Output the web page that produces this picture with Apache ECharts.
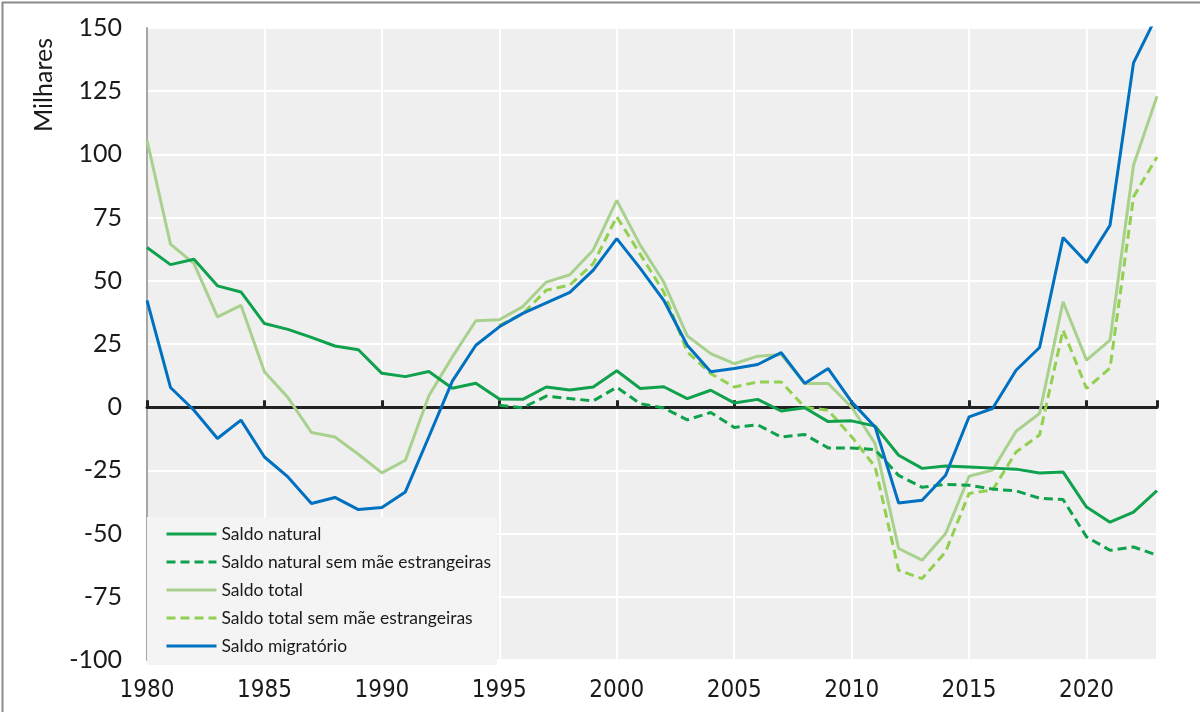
<!DOCTYPE html>
<html>
<head>
<meta charset="utf-8">
<script src="https://cdn.jsdelivr.net/npm/echarts@6/dist/echarts.min.js"></script>
<style>
html,body{margin:0;padding:0;background:#fff;}
#c{width:1200px;height:712px;}
</style>
</head>
<body>
<div id="c"></div>
<script>
// ---- Data ----
const years = [];
for (let y = 1980; y <= 2023; y++) years.push(y);
const yearsFrom1995 = years.filter(y => y >= 1995);

const saldoNatural = [63.2, 56.4, 58.5, 48, 45.6, 33.1, 30.8, 27.6, 24.2, 22.7,
  13.4, 12.1, 14.1, 7.5, 9.5, 3.2, 3.1, 8, 6.8, 8,
  14.4, 7.4, 8.1, 3.4, 6.7, 1.7, 3.1, -1.5, -0.2, -5.7,
  -5.4, -7.5, -19, -24.2, -23.3, -23.7, -24.1, -24.5, -26, -25.6,
  -39.5, -45.5, -41.5, -33];

const saldoNaturalSemMae = [0.8, -0.2, 4.4, 3.4, 2.5, 7.9, 1.4, -0.3, -5, -2.1,
  -8, -7, -11.8, -10.8, -16.1, -16.1, -16.8, -27, -31.7, -30.5,
  -30.9, -32.4, -33.1, -36, -36.5, -51.3, -56.6, -55.3, -58.5];

const saldoTotal = [105.6, 64.5, 56.8, 35.7, 40.3, 14, 3.8, -10, -11.8, -18.6,
  -26, -21, 4.5, 19.9, 34.2, 34.6, 39.8, 49.5, 52.4, 62.2,
  81.8, 64.1, 49.5, 28.2, 21.2, 17.2, 20.2, 20.8, 9.4, 9.4,
  0, -14.4, -55.9, -60.5, -50, -27.3, -24.9, -9.5, -2.5, 41.7,
  18.6, 26.5, 95.7, 123];

const saldoTotalSemMae = [32.4, 37, 46.3, 48.3, 56.8, 75.3, 60.5, 45.6, 21.9, 13.3,
  8, 10, 10, 0, -1.2, -11.7, -23.6, -64.5, -67.8, -57.2,
  -34.1, -32.8, -17.7, -11, 30.5, 7.4, 15.5, 83.2, 99];

const saldoMigratorio = [42.3, 7.8, -1.2, -12.4, -5.1, -19.7, -27.6, -38.1, -35.7, -40.5,
  -39.7, -33.5, -11.7, 10.3, 24.5, 31.8, 37.1, 41.3, 45.4, 54.2,
  66.7, 54.9, 42.3, 24.5, 14, 15.3, 16.9, 21.6, 9.4, 15.3,
  2.1, -7.8, -37.9, -36.8, -26.9, -3.8, -0.5, 14.6, 23.6, 67.1,
  57.2, 72, 136.2, 155];

const seriesNames = ['Saldo natural', 'Saldo natural sem mãe estrangeiras', 'Saldo total',
  'Saldo total sem mãe estrangeiras', 'Saldo migratório'];

const pairs = (xs, vs) => xs.map((x, i) => [x, vs[i]]);

// ---- Chart ----
const chart = echarts.init(document.getElementById('c'), null, {renderer: 'canvas'});

const lineSeries = (name, data, color, dashed, z) => ({
  name, type: 'line', data, symbol: 'none', showSymbol: false, clip: true, z,
  lineStyle: {color, width: 3, type: dashed ? [9, 5] : 'solid'},
  itemStyle: {color},
  emphasis: {disabled: true}
});

const narrowFont = "'Liberation Sans Narrow', 'DejaVu Sans Condensed', 'Arial Narrow', 'Liberation Sans', sans-serif";

chart.setOption({
  animation: false,
  backgroundColor: '#ffffff',
  grid: {left: 147, right: 43, top: 28, bottom: 52, show: true, backgroundColor: '#efefef', borderWidth: 0},
  xAxis: [{
    type: 'value', min: 1980, max: 2023, interval: 5, position: 'bottom',
    axisLine: {show: false, onZero: false},
    axisTick: {show: false},
    axisLabel: {fontFamily: narrowFont, fontSize: 24, color: '#1a1a1a', margin: 19,
      showMaxLabel: false, formatter: v => (v % 5 === 0 ? String(v) : '')},
    splitLine: {show: true, lineStyle: {color: '#ffffff', width: 2}}
  }, {
    type: 'value', min: 1980, max: 2023, interval: 5, position: 'top',
    axisLine: {show: true, onZero: true, lineStyle: {color: '#222222', width: 3}},
    axisTick: {show: true, inside: false, length: 7, lineStyle: {color: '#222222', width: 3}},
    axisLabel: {show: false},
    splitLine: {show: false}
  }],
  yAxis: {
    type: 'value', min: -100, max: 150, interval: 25,
    axisLine: {show: true, onZero: false, lineStyle: {color: '#a6a6a6', width: 2}},
    axisTick: {show: false},
    axisLabel: {fontFamily: 'Lato', fontSize: 25, color: '#1a1a1a', margin: 25},
    splitLine: {show: true, lineStyle: {color: '#ffffff', width: 2}}
  },
  legend: {
    orient: 'vertical', left: 147, top: 517,
    padding: [8, 6, 10, 18],
    backgroundColor: '#f4f4f4',
    itemWidth: 50, itemHeight: 14, itemGap: 10,
    itemStyle: {opacity: 0},
    lineStyle: {width: 3},
    textStyle: {fontFamily: 'Lato', fontSize: 17.5, color: '#1a1a1a', lineHeight: 17},
    data: seriesNames,
    selectedMode: false
  },
  graphic: [{
    type: 'text', left: 31, top: 38, rotation: Math.PI / 2,
    style: {text: 'Milhares', fontFamily: 'Lato', fontSize: 25, fill: '#1a1a1a'}
  }, {
    type: 'rect', left: 0, top: 0, z: 100, silent: true,
    shape: {x: 0, y: 0, width: 1199, height: 711},
    style: {fill: 'none', stroke: '#8c8c8c', lineWidth: 2}
  }],
  series: [
    lineSeries(seriesNames[0], pairs(years, saldoNatural), '#0fa14c', false, 3),
    lineSeries(seriesNames[1], pairs(yearsFrom1995, saldoNaturalSemMae), '#0fa14c', true, 3),
    lineSeries(seriesNames[2], pairs(years, saldoTotal), '#a9d18e', false, 2),
    lineSeries(seriesNames[3], pairs(yearsFrom1995, saldoTotalSemMae), '#92d050', true, 2),
    lineSeries(seriesNames[4], pairs(years, saldoMigratorio), '#0070c0', false, 4)
  ]
});
</script>
</body>
</html>
